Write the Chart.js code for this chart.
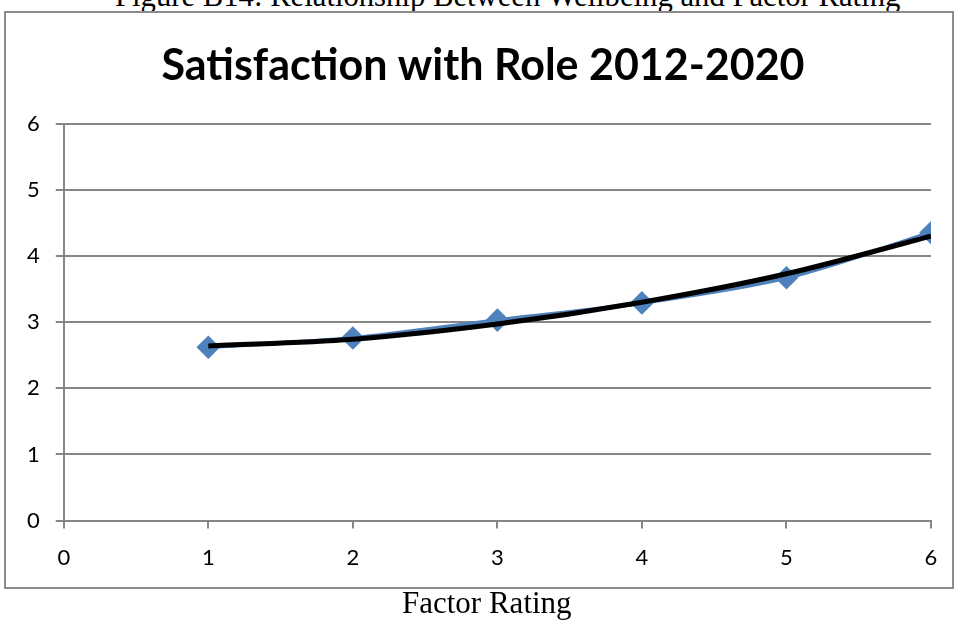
<!DOCTYPE html>
<html>
<head>
<meta charset="utf-8">
<script src="https://cdn.jsdelivr.net/npm/chart.js@4"></script>
<style>
  html, body { margin: 0; padding: 0; background: #fff; overflow: hidden; }
  #wrap { position: relative; width: 956px; height: 621px; overflow: hidden; }
  #frame { position: absolute; left: 4px; top: 11px; width: 946px; height: 574px; border: 2px solid #8c8c8c; }
  .doc-text { position: absolute; white-space: nowrap; line-height: 31px;
              font-family: "Liberation Serif", "Times New Roman", serif; font-size: 31px; color: #000; }
  #caption { left: 115px; top: -19px; font-size: 30.7px; }
  #axisLabel { left: 402px; top: 587px; }
  canvas { position: absolute; left: 0; top: 0; }
</style>
</head>
<body>
<div id="wrap">
  <div id="caption" class="doc-text">Figure B14:  Relationship Between Wellbeing and Factor Rating</div>
  <div id="frame"></div>
  <canvas id="roleChart" width="956" height="621"></canvas>
  <div id="axisLabel" class="doc-text">Factor Rating</div>
</div>
<script>
const factorRating = [1, 2, 3, 4, 5, 6];
const satisfaction = [2.62, 2.76, 3.03, 3.29, 3.67, 4.35];
const trendValues = [2.64, 2.74, 2.97, 3.30, 3.73, 4.30];
const axisTicks = [0, 1, 2, 3, 4, 5, 6];

// nudge the chart title to where Excel put it
const titleShift = {
    id: "titleShift",
    afterLayout(chart) {
        const tb = chart.titleBlock;
        if (tb) { tb.left += 12; tb.right += 12; }
    }
};

document.addEventListener("DOMContentLoaded", function () {
    const ctx = document.getElementById("roleChart").getContext("2d");
    const tickFont = { family: "Lato, 'Open Sans', sans-serif", size: 22 };

    new Chart(ctx, {
        type: "scatter",
        data: {
            datasets: [{
                label: "Satisfaction",
                data: factorRating.map((x, i) => ({ x: x, y: satisfaction[i] })),
                showLine: true,
                borderColor: "#4f81bd",
                backgroundColor: "#4f81bd",
                borderWidth: 4,
                pointStyle: "rectRot",
                pointRadius: 9,
                pointHoverRadius: 9,
                tension: 0.3,
                order: 2
            }, {
                label: "Trend",
                data: factorRating.map((x, i) => ({ x: x, y: trendValues[i] })),
                showLine: true,
                borderColor: "#000",
                borderWidth: 5,
                pointRadius: 0,
                cubicInterpolationMode: "monotone",
                order: 1
            }]
        },
        plugins: [titleShift],
        options: {
            responsive: false,
            animation: false,
            layout: { padding: { top: 40, left: 11, right: 25, bottom: 34 } },
            plugins: {
                legend: { display: false },
                tooltip: { enabled: false },
                title: {
                    display: true,
                    text: "Satisfaction with Role 2012-2020",
                    color: "#000",
                    font: { family: "Lato, 'Open Sans', sans-serif", size: 43, weight: "bold" },
                    padding: { top: 0, bottom: 32 }
                }
            },
            scales: {
                x: {
                    type: "linear",
                    min: 0, max: 6,
                    afterBuildTicks: s => { s.ticks = axisTicks.map(v => ({ value: v })); },
                    ticks: { color: "#000", font: tickFont, padding: 16 },
                    grid: { drawOnChartArea: false, drawTicks: true, tickLength: 8, color: "#868686", lineWidth: 2 },
                    border: { color: "#868686", width: 2 }
                },
                y: {
                    type: "linear",
                    min: 0, max: 6,
                    afterBuildTicks: s => { s.ticks = axisTicks.map(v => ({ value: v })); },
                    ticks: { color: "#000", font: tickFont, padding: 16 },
                    grid: { color: "#868686", lineWidth: 2, tickLength: 8 },
                    border: { color: "#868686", width: 2 }
                }
            }
        }
    });
});
</script>
</body>
</html>
